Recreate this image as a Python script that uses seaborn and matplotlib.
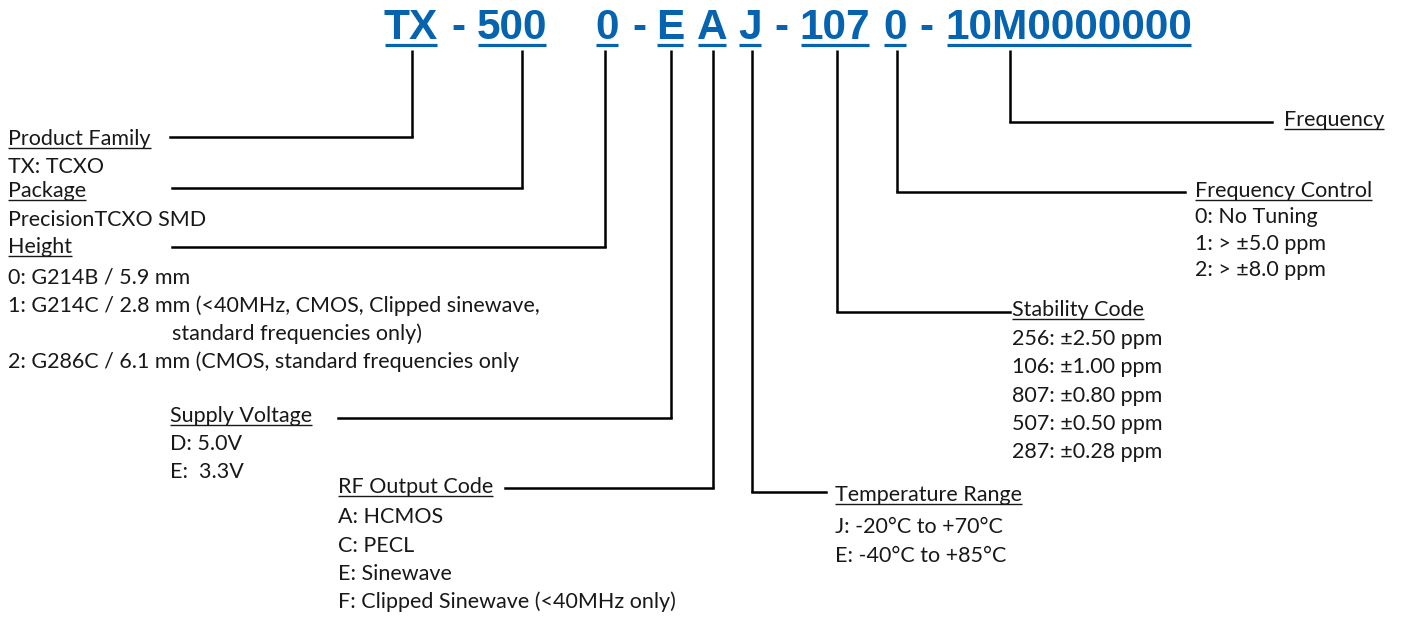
import matplotlib.pyplot as plt
import seaborn as sns

sns.set_theme(style="white")
plt.rcParams['font.family'] = ['Lato', 'DejaVu Sans']

# part number, split into its code fields
code_tokens = ["TX", "-", "500", "0", "-", "E", "A", "J", "-", "107", "0", "-", "10M0000000"]

# field titles and their option lists
product_family = ["TX: TCXO"]
package = ["PrecisionTCXO SMD"]
height = ["0: G214B / 5.9 mm",
          "1: G214C / 2.8 mm (<40MHz, CMOS, Clipped sinewave,",
          "standard frequencies only)",
          "2: G286C / 6.1 mm (CMOS, standard frequencies only"]
supply_voltage = ["D: 5.0V", "E:  3.3V"]
rf_output = ["A: HCMOS", "C: PECL", "E: Sinewave", "F: Clipped Sinewave (<40MHz only)"]
temperature = ["J: -20\u00b0C to +70\u00b0C", "E: -40\u00b0C to +85\u00b0C"]
stability = ["256: \u00b12.50 ppm", "106: \u00b11.00 ppm", "807: \u00b10.80 ppm",
             "507: \u00b10.50 ppm", "287: \u00b10.28 ppm"]
freq_control = ["0: No Tuning", "1: > \u00b15.0 ppm", "2: > \u00b18.0 ppm"]
frequency = []

BLUE = "#0563b0"
INK = "#1a1718"

# layout (pixel positions on a 1406x617 canvas)
code_x = [411, 458, 512, 607, 639, 670, 712, 750, 781, 835, 895, 926, 1069]
fields = [
    # title, entries, tick x, line y, line x0, line x1, label x, title baseline, entry baselines
    ("Product Family", product_family, 412, 137, 170, 412, 8, 145, [173]),
    ("Package", package, 522, 188, 172, 522, 8, 197, [226]),
    ("Height", height, 605, 247, 172, 605, 8, 253, [283, 312, 340, 368]),
    ("Supply Voltage", supply_voltage, 671, 418, 338, 671, 170, 422, [450, 478]),
    ("RF Output Code", rf_output, 713, 488, 505, 713, 338, 493, [523, 552, 580, 608]),
    ("Temperature Range", temperature, 752, 492, 752, 826, 835, 501, [533, 562]),
    ("Stability Code", stability, 837, 312, 837, 1010, 1012, 316, [345, 373, 402, 430, 458]),
    ("Frequency Control", freq_control, 897, 192, 897, 1185, 1195, 197, [223, 250, 276]),
    ("Frequency", frequency, 1010, 122, 1010, 1272, 1284, 126, []),
]
indent = {"standard frequencies only)": 172}

fig = plt.figure(figsize=(14.06, 6.17), dpi=100)
ax = fig.add_axes([0, 0, 1, 1])
ax.set_xlim(0, 1406)
ax.set_ylim(617, 0)
ax.axis("off")

code_texts = []
for tok, x in zip(code_tokens, code_x):
    t = ax.text(x, 39, tok, ha="center", va="baseline", fontsize=30.5,
                fontweight="bold", color=BLUE, family=["Liberation Sans", "DejaVu Sans"])
    code_texts.append(t)

title_texts = []
for title, entries, tx, ly, x0, x1, lx, tb, eb in fields:
    ax.plot([tx, tx], [50, ly], color="black", lw=1.8, solid_capstyle="butt")
    ax.plot([x0, x1], [ly, ly], color="black", lw=1.8, solid_capstyle="projecting")
    title_texts.append(ax.text(lx, tb, title, ha="left", va="baseline",
                               fontsize=15.5, color=INK))
    for e, b in zip(entries, eb):
        ax.text(indent.get(e, lx), b, e, ha="left", va="baseline",
                fontsize=15.5, color=INK)

# underlines, measured from the rendered text
fig.canvas.draw()
renderer = fig.canvas.get_renderer()
inv = ax.transData.inverted()
for t in code_texts:
    if t.get_text() == "-":
        continue
    bb = t.get_window_extent(renderer)
    (xa, _), (xb, _) = inv.transform([(bb.x0, bb.y0), (bb.x1, bb.y1)])
    ax.plot([xa + 1, xb - 1], [44.5, 44.5], color=BLUE, lw=2.3, solid_capstyle="butt")
for t in title_texts:
    bb = t.get_window_extent(renderer)
    (xa, _), (xb, _) = inv.transform([(bb.x0, bb.y0), (bb.x1, bb.y1)])
    y = t.get_position()[1] + 2.5
    ax.plot([xa, xb], [y, y], color=INK, lw=1.0, solid_capstyle="butt")

fig.savefig("out.png", dpi=100, facecolor="white")
